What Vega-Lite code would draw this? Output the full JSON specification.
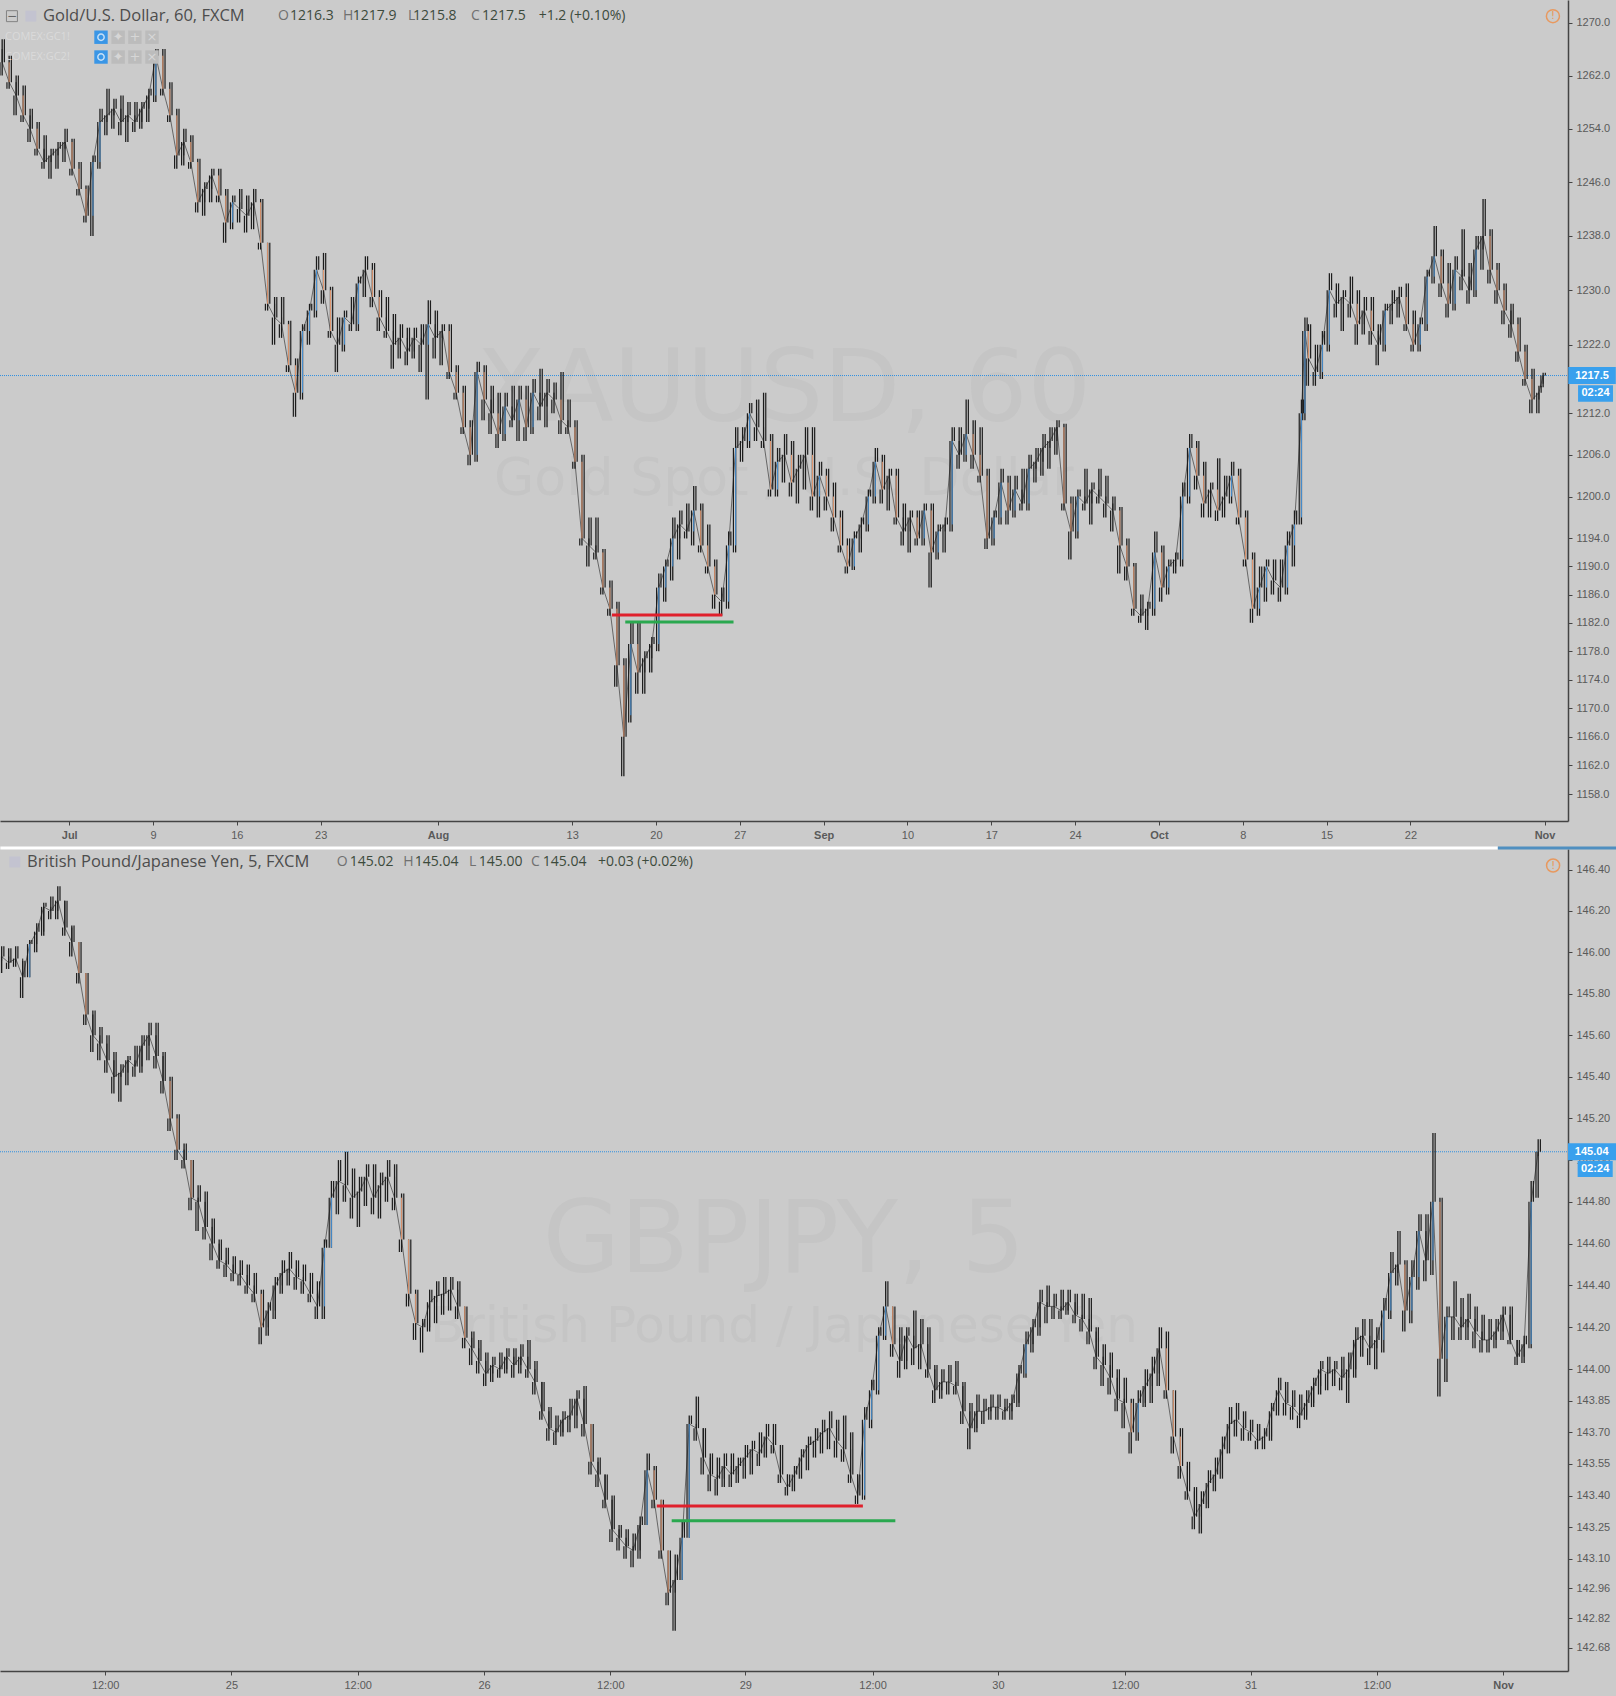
{"$schema":"https://vega.github.io/schema/vega-lite/v6.json","background":"#cbcbcb","padding":{"left":-2,"top":0,"right":0,"bottom":0},"bounds":"flush","spacing":28,"config":{"view":{"stroke":null},"axis":{"labelFont":"Liberation Sans","labelFontSize":11,"labelColor":"#5a5a5a","domainColor":"#444444","domainWidth":1.5,"tickColor":"#444444","tickSize":4,"labelPadding":4,"grid":false,"title":null},"text":{"font":"DejaVu Sans"}},
"datasets":{"gold":[
{"t":-96,"o":1266,"h":1267.5,"l":1262,"c":1264},{"t":-86,"o":1264,"h":1265,"l":1260,"c":1261},{"t":-76,"o":1261,"h":1262,"l":1256,"c":1259},{"t":-66,"o":1259,"h":1260.5,"l":1255,"c":1256},{"t":-56,"o":1256,"h":1257,"l":1252,"c":1254},{"t":-46,"o":1254,"h":1255,"l":1250,"c":1251},{"t":-36,"o":1251,"h":1253,"l":1248,"c":1249},{"t":-26,"o":1249,"h":1251,"l":1246.5,"c":1250},{"t":-16,"o":1250,"h":1252,"l":1248,"c":1251},{"t":-6,"o":1251,"h":1254,"l":1249,"c":1252},
{"t":4,"o":1252,"h":1252.5,"l":1247,"c":1248},{"t":14,"o":1248,"h":1249,"l":1244,"c":1245},{"t":24,"o":1245,"h":1245.5,"l":1240,"c":1241},{"t":34,"o":1241,"h":1250,"l":1238,"c":1249},{"t":44,"o":1249,"h":1257,"l":1248,"c":1255},{"t":54,"o":1255,"h":1260,"l":1253,"c":1256},{"t":64,"o":1256,"h":1258.5,"l":1254,"c":1257},{"t":74,"o":1257,"h":1259,"l":1253,"c":1255},{"t":84,"o":1255,"h":1258,"l":1252,"c":1256},{"t":94,"o":1256,"h":1258,"l":1253.5,"c":1255},
{"t":104,"o":1255,"h":1258,"l":1254,"c":1257},{"t":114,"o":1257,"h":1260,"l":1255,"c":1259},{"t":124,"o":1259,"h":1266,"l":1258,"c":1265},{"t":134,"o":1265,"h":1266,"l":1259,"c":1260},{"t":144,"o":1260,"h":1261,"l":1255,"c":1256},{"t":154,"o":1256,"h":1257,"l":1248,"c":1250},{"t":164,"o":1250,"h":1254,"l":1248.5,"c":1252},{"t":174,"o":1252,"h":1253,"l":1248,"c":1249},{"t":184,"o":1249,"h":1249.5,"l":1241.5,"c":1243},{"t":194,"o":1243,"h":1246,"l":1241,"c":1245},
{"t":204,"o":1245,"h":1248,"l":1243,"c":1247},{"t":214,"o":1247,"h":1248,"l":1243,"c":1244},{"t":224,"o":1244,"h":1245,"l":1237,"c":1240},{"t":234,"o":1240,"h":1244,"l":1239,"c":1243},{"t":244,"o":1243,"h":1245,"l":1240,"c":1242},{"t":254,"o":1242,"h":1244,"l":1238.5,"c":1241},{"t":264,"o":1241,"h":1245,"l":1239,"c":1243},{"t":274,"o":1243,"h":1243.5,"l":1236,"c":1237},{"t":284,"o":1237,"h":1237,"l":1227,"c":1228},{"t":294,"o":1228,"h":1229,"l":1222,"c":1226},
{"t":304,"o":1226,"h":1229,"l":1223,"c":1225},{"t":314,"o":1225,"h":1225.5,"l":1218,"c":1219},{"t":324,"o":1219,"h":1220,"l":1211.5,"c":1215},{"t":334,"o":1215,"h":1225,"l":1214,"c":1224},{"t":344,"o":1224,"h":1228,"l":1222,"c":1227},{"t":354,"o":1227,"h":1235,"l":1226,"c":1233},{"t":364,"o":1233,"h":1235.5,"l":1228,"c":1230},{"t":374,"o":1230,"h":1230.5,"l":1223,"c":1224},{"t":384,"o":1224,"h":1226,"l":1218,"c":1222},{"t":394,"o":1222,"h":1227,"l":1221,"c":1226},
{"t":404,"o":1226,"h":1229,"l":1224,"c":1225},{"t":414,"o":1225,"h":1232,"l":1224,"c":1231},{"t":424,"o":1231,"h":1235,"l":1229,"c":1233},{"t":434,"o":1233,"h":1234,"l":1227.5,"c":1229},{"t":444,"o":1229,"h":1230,"l":1224,"c":1226},{"t":454,"o":1226,"h":1229,"l":1223,"c":1224},{"t":464,"o":1224,"h":1226.5,"l":1218.5,"c":1222},{"t":474,"o":1222,"h":1225,"l":1220,"c":1223},{"t":484,"o":1223,"h":1224.5,"l":1219,"c":1221},{"t":494,"o":1221,"h":1224.5,"l":1220,"c":1223},
{"t":504,"o":1223,"h":1225,"l":1218,"c":1222},{"t":514,"o":1222,"h":1228.5,"l":1214,"c":1225},{"t":524,"o":1225,"h":1227,"l":1220,"c":1223},{"t":534,"o":1223,"h":1225,"l":1219,"c":1224},{"t":544,"o":1224,"h":1225,"l":1217,"c":1218},{"t":554,"o":1218,"h":1219,"l":1214,"c":1215},{"t":564,"o":1215,"h":1216,"l":1209,"c":1210},{"t":574,"o":1210,"h":1211,"l":1204.5,"c":1206},{"t":584,"o":1206,"h":1219.5,"l":1205,"c":1218},{"t":594,"o":1218,"h":1219,"l":1211,"c":1214},
{"t":604,"o":1214,"h":1216,"l":1209,"c":1212},{"t":614,"o":1212,"h":1215,"l":1207,"c":1209},{"t":624,"o":1209,"h":1215,"l":1208,"c":1213},{"t":634,"o":1213,"h":1216,"l":1210,"c":1211},{"t":644,"o":1211,"h":1216,"l":1208,"c":1214},{"t":654,"o":1214,"h":1216,"l":1208,"c":1210},{"t":664,"o":1210,"h":1217,"l":1209,"c":1215},{"t":674,"o":1215,"h":1218.5,"l":1211,"c":1213},{"t":684,"o":1213,"h":1217,"l":1210,"c":1215},{"t":694,"o":1215,"h":1216.5,"l":1212,"c":1214},
{"t":704,"o":1214,"h":1218,"l":1209,"c":1211},{"t":714,"o":1211,"h":1214,"l":1209,"c":1210},{"t":724,"o":1210,"h":1211,"l":1204,"c":1205},{"t":734,"o":1205,"h":1206,"l":1193,"c":1194},{"t":744,"o":1194,"h":1197,"l":1190,"c":1193},{"t":754,"o":1193,"h":1197,"l":1191,"c":1192},{"t":764,"o":1192,"h":1192.5,"l":1186,"c":1187},{"t":774,"o":1187,"h":1188,"l":1183,"c":1184},{"t":784,"o":1184,"h":1185,"l":1173,"c":1176},{"t":794,"o":1176,"h":1177,"l":1160.5,"c":1166},
{"t":804,"o":1169,"h":1182,"l":1168,"c":1179},{"t":814,"o":1179,"h":1182,"l":1172,"c":1175},{"t":824,"o":1175,"h":1178,"l":1172,"c":1177},{"t":834,"o":1177,"h":1180,"l":1175,"c":1179},{"t":844,"o":1179,"h":1189,"l":1178,"c":1187},{"t":854,"o":1187,"h":1191,"l":1185,"c":1190},{"t":864,"o":1190,"h":1197,"l":1188,"c":1194},{"t":874,"o":1194,"h":1198,"l":1191,"c":1196},{"t":884,"o":1196,"h":1199,"l":1194,"c":1195},{"t":894,"o":1195,"h":1201.5,"l":1193,"c":1198},
{"t":904,"o":1198,"h":1199,"l":1192,"c":1193},{"t":914,"o":1193,"h":1196,"l":1189,"c":1190},{"t":924,"o":1190,"h":1191,"l":1184,"c":1186},{"t":934,"o":1186,"h":1187,"l":1183,"c":1185},{"t":944,"o":1185,"h":1195,"l":1184,"c":1193},{"t":954,"o":1193,"h":1210,"l":1192,"c":1207},{"t":964,"o":1207,"h":1210,"l":1205,"c":1208},{"t":974,"o":1208,"h":1213.5,"l":1207,"c":1212},{"t":984,"o":1212,"h":1214,"l":1208,"c":1210},{"t":994,"o":1210,"h":1215,"l":1207,"c":1208},
{"t":1004,"o":1208,"h":1209,"l":1200,"c":1201},{"t":1014,"o":1201,"h":1207,"l":1200,"c":1205},{"t":1024,"o":1205,"h":1209,"l":1202,"c":1206},{"t":1034,"o":1206,"h":1208,"l":1200,"c":1202},{"t":1044,"o":1202,"h":1206,"l":1199,"c":1204},{"t":1054,"o":1204,"h":1210,"l":1201,"c":1206},{"t":1064,"o":1206,"h":1210,"l":1198,"c":1200},{"t":1074,"o":1200,"h":1205,"l":1197,"c":1203},{"t":1084,"o":1203,"h":1204,"l":1198,"c":1200},{"t":1094,"o":1200,"h":1202,"l":1195,"c":1197},
{"t":1104,"o":1197,"h":1198,"l":1192,"c":1193},{"t":1114,"o":1193,"h":1194,"l":1189,"c":1190},{"t":1124,"o":1190,"h":1195,"l":1189.5,"c":1194},{"t":1134,"o":1194,"h":1197,"l":1192,"c":1196},{"t":1144,"o":1196,"h":1201,"l":1195,"c":1200},{"t":1154,"o":1200,"h":1207,"l":1199,"c":1205},{"t":1164,"o":1205,"h":1206,"l":1199,"c":1201},{"t":1174,"o":1201,"h":1204,"l":1198,"c":1203},{"t":1184,"o":1203,"h":1204,"l":1196,"c":1197},{"t":1194,"o":1197,"h":1199,"l":1193,"c":1195},
{"t":1204,"o":1195,"h":1198,"l":1192,"c":1197},{"t":1214,"o":1197,"h":1198,"l":1193,"c":1194},{"t":1224,"o":1194,"h":1199,"l":1193,"c":1198},{"t":1234,"o":1198,"h":1199,"l":1187,"c":1192},{"t":1244,"o":1192,"h":1196,"l":1191,"c":1195},{"t":1254,"o":1195,"h":1197,"l":1192,"c":1196},{"t":1264,"o":1196,"h":1210,"l":1195,"c":1208},{"t":1274,"o":1208,"h":1210,"l":1204,"c":1206},{"t":1284,"o":1206,"h":1214,"l":1205,"c":1209},{"t":1294,"o":1209,"h":1211,"l":1204,"c":1206},
{"t":1304,"o":1206,"h":1210,"l":1202,"c":1203},{"t":1314,"o":1203,"h":1204,"l":1192.5,"c":1194},{"t":1324,"o":1194,"h":1198,"l":1193,"c":1197},{"t":1334,"o":1197,"h":1204,"l":1196,"c":1202},{"t":1344,"o":1202,"h":1203,"l":1196,"c":1198},{"t":1354,"o":1198,"h":1203,"l":1197,"c":1201},{"t":1364,"o":1201,"h":1204,"l":1198,"c":1199},{"t":1374,"o":1199,"h":1206,"l":1198,"c":1204},{"t":1384,"o":1204,"h":1207,"l":1202,"c":1205},{"t":1394,"o":1205,"h":1209,"l":1203,"c":1207},
{"t":1404,"o":1207,"h":1210,"l":1204,"c":1208},{"t":1414,"o":1208,"h":1211,"l":1206,"c":1210},{"t":1424,"o":1210,"h":1210.5,"l":1198,"c":1199},{"t":1434,"o":1199,"h":1200,"l":1191,"c":1195},{"t":1444,"o":1195,"h":1201,"l":1194,"c":1200},{"t":1454,"o":1200,"h":1204,"l":1198,"c":1199},{"t":1464,"o":1199,"h":1202,"l":1196,"c":1201},{"t":1474,"o":1201,"h":1204,"l":1199,"c":1200},{"t":1484,"o":1200,"h":1203,"l":1197,"c":1199},{"t":1494,"o":1199,"h":1200,"l":1195,"c":1198},
{"t":1504,"o":1198,"h":1198.5,"l":1189,"c":1193},{"t":1514,"o":1193,"h":1194,"l":1188,"c":1190},{"t":1524,"o":1190,"h":1190.5,"l":1183,"c":1184},{"t":1534,"o":1184,"h":1186,"l":1182,"c":1183},{"t":1544,"o":1183,"h":1185,"l":1181,"c":1184},{"t":1554,"o":1184,"h":1195,"l":1183,"c":1192},{"t":1564,"o":1192,"h":1193,"l":1185,"c":1187},{"t":1574,"o":1187,"h":1191,"l":1186,"c":1190},{"t":1584,"o":1190,"h":1192,"l":1189,"c":1191},{"t":1594,"o":1191,"h":1202,"l":1190,"c":1200},
{"t":1604,"o":1200,"h":1209,"l":1199,"c":1207},{"t":1614,"o":1207,"h":1208,"l":1201,"c":1203},{"t":1624,"o":1203,"h":1205,"l":1197,"c":1199},{"t":1634,"o":1199,"h":1202,"l":1197,"c":1201},{"t":1644,"o":1201,"h":1205.5,"l":1196.5,"c":1198},{"t":1654,"o":1198,"h":1203,"l":1197,"c":1200},{"t":1664,"o":1200,"h":1205,"l":1199,"c":1203},{"t":1674,"o":1203,"h":1204,"l":1196,"c":1197},{"t":1684,"o":1197,"h":1198,"l":1190,"c":1191},{"t":1694,"o":1191,"h":1192,"l":1182,"c":1184},
{"t":1704,"o":1184,"h":1190,"l":1183,"c":1187},{"t":1714,"o":1187,"h":1191,"l":1185,"c":1190},{"t":1724,"o":1190,"h":1191,"l":1186,"c":1188},{"t":1734,"o":1188,"h":1191,"l":1185,"c":1187},{"t":1744,"o":1187,"h":1195,"l":1186,"c":1193},{"t":1754,"o":1193,"h":1198,"l":1190,"c":1196},{"t":1764,"o":1197,"h":1214,"l":1196,"c":1212},{"t":1769,"o":1212,"h":1226,"l":1211,"c":1224},{"t":1774,"o":1224,"h":1225,"l":1216,"c":1220},{"t":1784,"o":1220,"h":1222,"l":1216,"c":1218},
{"t":1794,"o":1218,"h":1224,"l":1217,"c":1222},{"t":1804,"o":1222,"h":1232.5,"l":1221,"c":1230},{"t":1814,"o":1230,"h":1231,"l":1226,"c":1228},{"t":1824,"o":1228,"h":1230,"l":1224,"c":1229},{"t":1834,"o":1229,"h":1232,"l":1226,"c":1228},{"t":1844,"o":1228,"h":1230,"l":1222,"c":1225},{"t":1854,"o":1225,"h":1229,"l":1223.5,"c":1227},{"t":1864,"o":1227,"h":1229,"l":1222,"c":1224},{"t":1874,"o":1224,"h":1225,"l":1219,"c":1222},{"t":1884,"o":1222,"h":1228,"l":1221,"c":1227},
{"t":1894,"o":1227,"h":1230,"l":1225,"c":1228},{"t":1904,"o":1228,"h":1230.5,"l":1226,"c":1229},{"t":1914,"o":1229,"h":1231,"l":1224,"c":1225},{"t":1924,"o":1225,"h":1227,"l":1221,"c":1222},{"t":1934,"o":1222,"h":1226,"l":1221,"c":1225},{"t":1944,"o":1225,"h":1233,"l":1224,"c":1232},{"t":1954,"o":1232,"h":1239.5,"l":1231,"c":1235},{"t":1964,"o":1235,"h":1236,"l":1229,"c":1231},{"t":1974,"o":1231,"h":1234,"l":1226,"c":1228},{"t":1984,"o":1228,"h":1235,"l":1227,"c":1233},
{"t":1994,"o":1233,"h":1239,"l":1230,"c":1232},{"t":2004,"o":1232,"h":1234,"l":1228,"c":1230},{"t":2014,"o":1230,"h":1238,"l":1229,"c":1236},{"t":2024,"o":1236,"h":1243.5,"l":1233,"c":1238},{"t":2034,"o":1238,"h":1239,"l":1231,"c":1233},{"t":2044,"o":1233,"h":1234,"l":1228,"c":1230},{"t":2054,"o":1230,"h":1231,"l":1225,"c":1227},{"t":2064,"o":1227,"h":1228,"l":1223,"c":1225},{"t":2074,"o":1225,"h":1226,"l":1219.5,"c":1221},{"t":2084,"o":1221,"h":1222,"l":1216,"c":1217},
{"t":2094,"o":1217,"h":1218.5,"l":1212,"c":1214},{"t":2104,"o":1214,"h":1216,"l":1212,"c":1215},{"t":2110,"o":1216.3,"h":1217.9,"l":1215.8,"c":1217.5}
],"gbp":[
{"t":-262,"o":145.96,"h":146.03,"l":145.9,"c":145.98},{"t":-254,"o":145.98,"h":146.02,"l":145.92,"c":145.95},{"t":-246,"o":145.95,"h":146.03,"l":145.93,"c":145.97},{"t":-238,"o":145.97,"h":145.96,"l":145.78,"c":145.88},{"t":-230,"o":145.88,"h":146.06,"l":145.88,"c":146.04},{"t":-222,"o":146.04,"h":146.14,"l":146,"c":146.1},{"t":-214,"o":146.1,"h":146.24,"l":146.08,"c":146.22},{"t":-206,"o":146.22,"h":146.27,"l":146.16,"c":146.2},{"t":-198,"o":146.2,"h":146.32,"l":146.16,"c":146.25},{"t":-190,"o":146.25,"h":146.25,"l":146.08,"c":146.12},
{"t":-182,"o":146.12,"h":146.13,"l":145.98,"c":146.05},{"t":-174,"o":146.05,"h":146.05,"l":145.85,"c":145.9},{"t":-166,"o":145.9,"h":145.9,"l":145.65,"c":145.7},{"t":-158,"o":145.7,"h":145.72,"l":145.52,"c":145.6},{"t":-150,"o":145.6,"h":145.64,"l":145.48,"c":145.56},{"t":-142,"o":145.56,"h":145.6,"l":145.42,"c":145.48},{"t":-134,"o":145.48,"h":145.52,"l":145.32,"c":145.4},{"t":-126,"o":145.4,"h":145.46,"l":145.28,"c":145.42},{"t":-118,"o":145.42,"h":145.5,"l":145.36,"c":145.48},{"t":-110,"o":145.48,"h":145.55,"l":145.4,"c":145.45},
{"t":-102,"o":145.45,"h":145.6,"l":145.42,"c":145.55},{"t":-94,"o":145.55,"h":145.66,"l":145.48,"c":145.6},{"t":-86,"o":145.6,"h":145.66,"l":145.44,"c":145.5},{"t":-78,"o":145.5,"h":145.52,"l":145.32,"c":145.38},{"t":-70,"o":145.38,"h":145.4,"l":145.14,"c":145.2},{"t":-62,"o":145.2,"h":145.22,"l":145,"c":145.05},{"t":-54,"o":145.05,"h":145.08,"l":144.96,"c":145},{"t":-46,"o":145,"h":145,"l":144.76,"c":144.82},{"t":-38,"o":144.82,"h":144.88,"l":144.66,"c":144.8},{"t":-30,"o":144.8,"h":144.85,"l":144.62,"c":144.68},
{"t":-22,"o":144.68,"h":144.72,"l":144.52,"c":144.6},{"t":-14,"o":144.6,"h":144.62,"l":144.48,"c":144.52},{"t":-6,"o":144.52,"h":144.58,"l":144.44,"c":144.5},{"t":2,"o":144.5,"h":144.54,"l":144.42,"c":144.46},{"t":10,"o":144.46,"h":144.52,"l":144.4,"c":144.45},{"t":18,"o":144.45,"h":144.5,"l":144.36,"c":144.4},{"t":26,"o":144.4,"h":144.46,"l":144.32,"c":144.36},{"t":34,"o":144.36,"h":144.38,"l":144.12,"c":144.2},{"t":42,"o":144.2,"h":144.32,"l":144.16,"c":144.28},{"t":50,"o":144.28,"h":144.44,"l":144.24,"c":144.4},
{"t":58,"o":144.4,"h":144.52,"l":144.36,"c":144.46},{"t":66,"o":144.46,"h":144.56,"l":144.4,"c":144.48},{"t":74,"o":144.48,"h":144.52,"l":144.38,"c":144.44},{"t":82,"o":144.44,"h":144.5,"l":144.36,"c":144.42},{"t":90,"o":144.42,"h":144.46,"l":144.32,"c":144.36},{"t":98,"o":144.36,"h":144.42,"l":144.24,"c":144.3},{"t":106,"o":144.3,"h":144.62,"l":144.24,"c":144.58},{"t":114,"o":144.58,"h":144.9,"l":144.58,"c":144.82},{"t":122,"o":144.82,"h":145,"l":144.74,"c":144.9},{"t":130,"o":144.9,"h":145.04,"l":144.8,"c":144.88},
{"t":138,"o":144.88,"h":144.96,"l":144.72,"c":144.82},{"t":146,"o":144.82,"h":144.92,"l":144.68,"c":144.85},{"t":154,"o":144.85,"h":144.98,"l":144.78,"c":144.92},{"t":162,"o":144.92,"h":144.98,"l":144.74,"c":144.82},{"t":170,"o":144.82,"h":144.94,"l":144.72,"c":144.88},{"t":178,"o":144.88,"h":145,"l":144.8,"c":144.92},{"t":186,"o":144.92,"h":144.98,"l":144.76,"c":144.82},{"t":194,"o":144.82,"h":144.84,"l":144.56,"c":144.62},{"t":202,"o":144.62,"h":144.62,"l":144.3,"c":144.36},{"t":210,"o":144.36,"h":144.38,"l":144.14,"c":144.22},
{"t":218,"o":144.22,"h":144.24,"l":144.08,"c":144.2},{"t":226,"o":144.2,"h":144.38,"l":144.18,"c":144.32},{"t":234,"o":144.32,"h":144.42,"l":144.22,"c":144.35},{"t":242,"o":144.35,"h":144.44,"l":144.26,"c":144.36},{"t":250,"o":144.36,"h":144.44,"l":144.28,"c":144.38},{"t":258,"o":144.38,"h":144.42,"l":144.24,"c":144.3},{"t":266,"o":144.3,"h":144.3,"l":144.1,"c":144.15},{"t":274,"o":144.15,"h":144.18,"l":144.02,"c":144.1},{"t":282,"o":144.1,"h":144.14,"l":143.98,"c":144.04},{"t":290,"o":144.04,"h":144.08,"l":143.92,"c":143.98},
{"t":298,"o":143.98,"h":144.06,"l":143.94,"c":144.02},{"t":306,"o":144.02,"h":144.08,"l":143.96,"c":144},{"t":314,"o":144,"h":144.1,"l":143.98,"c":144.06},{"t":322,"o":144.06,"h":144.1,"l":143.96,"c":144.02},{"t":330,"o":144.02,"h":144.12,"l":143.98,"c":144.06},{"t":338,"o":144.06,"h":144.14,"l":143.96,"c":144},{"t":346,"o":144,"h":144.04,"l":143.88,"c":143.94},{"t":354,"o":143.94,"h":143.94,"l":143.76,"c":143.8},{"t":362,"o":143.8,"h":143.82,"l":143.66,"c":143.72},{"t":370,"o":143.72,"h":143.78,"l":143.64,"c":143.7},
{"t":378,"o":143.7,"h":143.8,"l":143.68,"c":143.76},{"t":386,"o":143.76,"h":143.86,"l":143.7,"c":143.78},{"t":394,"o":143.78,"h":143.9,"l":143.72,"c":143.86},{"t":402,"o":143.86,"h":143.92,"l":143.68,"c":143.74},{"t":410,"o":143.74,"h":143.74,"l":143.5,"c":143.56},{"t":418,"o":143.56,"h":143.58,"l":143.44,"c":143.5},{"t":426,"o":143.5,"h":143.5,"l":143.34,"c":143.38},{"t":434,"o":143.38,"h":143.4,"l":143.18,"c":143.24},{"t":442,"o":143.24,"h":143.26,"l":143.14,"c":143.2},{"t":450,"o":143.2,"h":143.24,"l":143.1,"c":143.16},
{"t":458,"o":143.16,"h":143.22,"l":143.06,"c":143.14},{"t":466,"o":143.14,"h":143.3,"l":143.1,"c":143.26},{"t":474,"o":143.26,"h":143.6,"l":143.26,"c":143.52},{"t":482,"o":143.52,"h":143.54,"l":143.34,"c":143.38},{"t":490,"o":143.38,"h":143.38,"l":143.1,"c":143.14},{"t":498,"o":143.14,"h":143.14,"l":142.88,"c":142.94},{"t":506,"o":142.94,"h":143.12,"l":142.76,"c":143},{"t":514,"o":143,"h":143.28,"l":143,"c":143.2},{"t":522,"o":143.2,"h":143.78,"l":143.2,"c":143.74},{"t":530,"o":143.74,"h":143.87,"l":143.66,"c":143.72},
{"t":538,"o":143.72,"h":143.72,"l":143.5,"c":143.58},{"t":546,"o":143.58,"h":143.6,"l":143.42,"c":143.5},{"t":554,"o":143.5,"h":143.58,"l":143.4,"c":143.48},{"t":562,"o":143.48,"h":143.6,"l":143.44,"c":143.54},{"t":570,"o":143.54,"h":143.6,"l":143.44,"c":143.5},{"t":578,"o":143.5,"h":143.58,"l":143.46,"c":143.54},{"t":586,"o":143.54,"h":143.64,"l":143.48,"c":143.58},{"t":594,"o":143.58,"h":143.66,"l":143.5,"c":143.62},{"t":602,"o":143.62,"h":143.7,"l":143.54,"c":143.6},{"t":610,"o":143.6,"h":143.74,"l":143.58,"c":143.68},
{"t":618,"o":143.68,"h":143.74,"l":143.6,"c":143.64},{"t":626,"o":143.64,"h":143.64,"l":143.46,"c":143.5},{"t":634,"o":143.5,"h":143.5,"l":143.4,"c":143.44},{"t":642,"o":143.44,"h":143.54,"l":143.42,"c":143.5},{"t":650,"o":143.5,"h":143.62,"l":143.48,"c":143.58},{"t":658,"o":143.58,"h":143.68,"l":143.52,"c":143.64},{"t":666,"o":143.64,"h":143.72,"l":143.58,"c":143.66},{"t":674,"o":143.66,"h":143.76,"l":143.6,"c":143.7},{"t":682,"o":143.7,"h":143.8,"l":143.62,"c":143.72},{"t":690,"o":143.72,"h":143.76,"l":143.58,"c":143.66},
{"t":698,"o":143.66,"h":143.78,"l":143.56,"c":143.62},{"t":706,"o":143.62,"h":143.7,"l":143.46,"c":143.5},{"t":714,"o":143.5,"h":143.5,"l":143.36,"c":143.4},{"t":722,"o":143.4,"h":143.82,"l":143.38,"c":143.76},{"t":730,"o":143.76,"h":143.95,"l":143.72,"c":143.9},{"t":738,"o":143.9,"h":144.2,"l":143.88,"c":144.16},{"t":746,"o":144.16,"h":144.42,"l":144.14,"c":144.3},{"t":754,"o":144.3,"h":144.3,"l":144.06,"c":144.12},{"t":762,"o":144.12,"h":144.2,"l":143.96,"c":144.04},{"t":770,"o":144.04,"h":144.2,"l":144,"c":144.16},
{"t":778,"o":144.16,"h":144.28,"l":144.02,"c":144.1},{"t":786,"o":144.1,"h":144.24,"l":144,"c":144.12},{"t":794,"o":144.12,"h":144.2,"l":143.96,"c":144},{"t":802,"o":144,"h":144.02,"l":143.84,"c":143.9},{"t":810,"o":143.9,"h":144,"l":143.86,"c":143.94},{"t":818,"o":143.94,"h":144.02,"l":143.88,"c":143.94},{"t":826,"o":143.94,"h":144.04,"l":143.88,"c":143.92},{"t":834,"o":143.92,"h":143.94,"l":143.74,"c":143.8},{"t":842,"o":143.8,"h":143.84,"l":143.62,"c":143.72},{"t":850,"o":143.72,"h":143.88,"l":143.7,"c":143.8},
{"t":858,"o":143.8,"h":143.86,"l":143.74,"c":143.8},{"t":866,"o":143.8,"h":143.88,"l":143.76,"c":143.82},{"t":874,"o":143.82,"h":143.88,"l":143.76,"c":143.82},{"t":882,"o":143.82,"h":143.86,"l":143.76,"c":143.8},{"t":890,"o":143.8,"h":143.88,"l":143.76,"c":143.84},{"t":898,"o":143.84,"h":144.02,"l":143.82,"c":143.98},{"t":906,"o":143.98,"h":144.18,"l":143.96,"c":144.12},{"t":914,"o":144.12,"h":144.24,"l":144.08,"c":144.2},{"t":922,"o":144.2,"h":144.38,"l":144.16,"c":144.32},{"t":930,"o":144.32,"h":144.4,"l":144.22,"c":144.3},
{"t":938,"o":144.3,"h":144.36,"l":144.24,"c":144.3},{"t":946,"o":144.3,"h":144.38,"l":144.24,"c":144.28},{"t":954,"o":144.28,"h":144.38,"l":144.26,"c":144.32},{"t":962,"o":144.32,"h":144.36,"l":144.22,"c":144.26},{"t":970,"o":144.26,"h":144.36,"l":144.18,"c":144.24},{"t":978,"o":144.24,"h":144.34,"l":144.12,"c":144.18},{"t":986,"o":144.18,"h":144.2,"l":144,"c":144.06},{"t":994,"o":144.06,"h":144.12,"l":143.92,"c":144.02},{"t":1002,"o":144.02,"h":144.08,"l":143.88,"c":143.96},{"t":1010,"o":143.96,"h":144,"l":143.8,"c":143.86},
{"t":1018,"o":143.86,"h":143.96,"l":143.72,"c":143.84},{"t":1026,"o":143.84,"h":143.86,"l":143.6,"c":143.7},{"t":1034,"o":143.7,"h":143.9,"l":143.66,"c":143.84},{"t":1042,"o":143.84,"h":144,"l":143.82,"c":143.92},{"t":1050,"o":143.92,"h":144.06,"l":143.84,"c":143.98},{"t":1058,"o":143.98,"h":144.2,"l":143.92,"c":144.1},{"t":1066,"o":144.1,"h":144.18,"l":143.86,"c":143.9},{"t":1074,"o":143.9,"h":143.9,"l":143.6,"c":143.68},{"t":1082,"o":143.68,"h":143.72,"l":143.48,"c":143.54},{"t":1090,"o":143.54,"h":143.56,"l":143.38,"c":143.42},
{"t":1098,"o":143.42,"h":143.44,"l":143.24,"c":143.3},{"t":1106,"o":143.3,"h":143.42,"l":143.22,"c":143.36},{"t":1114,"o":143.36,"h":143.52,"l":143.34,"c":143.46},{"t":1122,"o":143.46,"h":143.58,"l":143.42,"c":143.5},{"t":1130,"o":143.5,"h":143.68,"l":143.48,"c":143.62},{"t":1138,"o":143.62,"h":143.82,"l":143.6,"c":143.74},{"t":1146,"o":143.74,"h":143.84,"l":143.68,"c":143.76},{"t":1154,"o":143.76,"h":143.8,"l":143.66,"c":143.72},{"t":1162,"o":143.72,"h":143.76,"l":143.66,"c":143.7},{"t":1170,"o":143.7,"h":143.74,"l":143.62,"c":143.66},
{"t":1178,"o":143.66,"h":143.72,"l":143.62,"c":143.68},{"t":1186,"o":143.68,"h":143.84,"l":143.66,"c":143.8},{"t":1194,"o":143.8,"h":143.96,"l":143.78,"c":143.9},{"t":1202,"o":143.9,"h":143.94,"l":143.78,"c":143.84},{"t":1210,"o":143.84,"h":143.9,"l":143.76,"c":143.82},{"t":1218,"o":143.82,"h":143.88,"l":143.72,"c":143.78},{"t":1226,"o":143.78,"h":143.9,"l":143.76,"c":143.84},{"t":1234,"o":143.84,"h":143.96,"l":143.82,"c":143.92},{"t":1242,"o":143.92,"h":144.04,"l":143.88,"c":144},{"t":1250,"o":144,"h":144.06,"l":143.9,"c":143.98},
{"t":1258,"o":143.98,"h":144.04,"l":143.92,"c":144},{"t":1266,"o":144,"h":144.06,"l":143.9,"c":143.96},{"t":1274,"o":143.96,"h":144.08,"l":143.84,"c":144},{"t":1282,"o":144,"h":144.2,"l":143.96,"c":144.14},{"t":1290,"o":144.14,"h":144.24,"l":144.06,"c":144.16},{"t":1298,"o":144.16,"h":144.24,"l":144.02,"c":144.1},{"t":1306,"o":144.1,"h":144.2,"l":144,"c":144.14},{"t":1314,"o":144.14,"h":144.34,"l":144.08,"c":144.28},{"t":1322,"o":144.28,"h":144.56,"l":144.24,"c":144.46},{"t":1330,"o":144.46,"h":144.66,"l":144.4,"c":144.5},
{"t":1338,"o":144.5,"h":144.52,"l":144.18,"c":144.28},{"t":1346,"o":144.28,"h":144.52,"l":144.22,"c":144.44},{"t":1354,"o":144.44,"h":144.74,"l":144.38,"c":144.66},{"t":1362,"o":144.66,"h":144.74,"l":144.42,"c":144.52},{"t":1370,"o":144.52,"h":145.13,"l":144.45,"c":144.8},{"t":1378,"o":144.8,"h":144.82,"l":143.87,"c":144.05},{"t":1386,"o":144.05,"h":144.3,"l":143.94,"c":144.25},{"t":1394,"o":144.25,"h":144.42,"l":144.14,"c":144.25},{"t":1402,"o":144.25,"h":144.34,"l":144.14,"c":144.2},{"t":1410,"o":144.2,"h":144.36,"l":144.14,"c":144.24},
{"t":1418,"o":144.24,"h":144.3,"l":144.1,"c":144.18},{"t":1426,"o":144.18,"h":144.26,"l":144.08,"c":144.14},{"t":1434,"o":144.14,"h":144.24,"l":144.08,"c":144.14},{"t":1442,"o":144.14,"h":144.24,"l":144.1,"c":144.18},{"t":1450,"o":144.18,"h":144.3,"l":144.14,"c":144.26},{"t":1458,"o":144.26,"h":144.3,"l":144.12,"c":144.14},{"t":1466,"o":144.14,"h":144.14,"l":144.02,"c":144.06},{"t":1474,"o":144.06,"h":144.16,"l":144.03,"c":144.12},{"t":1482,"o":144.12,"h":144.9,"l":144.1,"c":144.8},{"t":1490,"o":145.02,"h":145.1,"l":144.82,"c":145.04}
]},
"vconcat":[
{"width":1568,"height":821,
"encoding":{
"x":{"field":"t","type":"quantitative","scale":{"domain":[-99.1,2145.6],"nice":false,"zero":false},"axis":{"orient":"bottom","values":[0,120,240,360,528,720,840,960,1080,1200,1320,1440,1560,1680,1800,1920,2112],"labelExpr":"{'0':'Jul','120':'9','240':'16','360':'23','528':'Aug','720':'13','840':'20','960':'27','1080':'Sep','1200':'10','1320':'17','1440':'24','1560':'Oct','1680':'8','1800':'15','1920':'22','2112':'Nov'}[datum.value]","labelFontWeight":{"condition":{"test":"datum.value==0||datum.value==528||datum.value==1080||datum.value==1560||datum.value==2112","value":"bold"},"value":"normal"}}},
"y":{"field":"p","type":"quantitative","scale":{"type":"log","domain":[1154.3,1273.46],"nice":false,"zero":false},"axis":{"orient":"right","values":[1270,1262,1254,1246,1238,1230,1222,1212,1206,1200,1194,1190,1186,1182,1178,1174,1170,1166,1162,1158],"format":".1f"}}},
"layer":[
{"data":{"values":[{"t":1023,"p":1215.2,"label":"XAUUSD, 60"}]},"mark":{"type":"text","fontSize":100,"color":"#c5c5c5"},"encoding":{"text":{"field":"label"}}},
{"data":{"values":[{"t":1023,"p":1202.5,"label":"Gold Spot / U.S. Dollar"}]},"mark":{"type":"text","fontSize":52,"color":"#c5c5c5"},"encoding":{"text":{"field":"label"}}},
{"data":{"values":[{"t":-99.1,"t2":2145.6,"p":1217.5}]},"mark":{"type":"rule","color":"#2f8fe0","strokeWidth":1,"strokeDash":[1,1]},"encoding":{"x2":{"field":"t2"}}},
{"data":{"name":"gold"},"mark":{"type":"line","color":"#222222","strokeWidth":0.6},"encoding":{"y":{"field":"c","type":"quantitative","scale":{"type":"log","domain":[1154.3,1273.46],"nice":false,"zero":false}}}},
{"data":{"name":"gold"},"mark":{"type":"rule","color":"#1c1c1c","strokeWidth":1.2,"xOffset":-2.2},"encoding":{"y":{"field":"l","type":"quantitative","scale":{"type":"log","domain":[1154.3,1273.46],"nice":false,"zero":false}},"y2":{"field":"c"}}},
{"data":{"name":"gold"},"mark":{"type":"rule","color":"#1c1c1c","strokeWidth":1.2,"xOffset":2.2},"encoding":{"y":{"field":"c","type":"quantitative","scale":{"type":"log","domain":[1154.3,1273.46],"nice":false,"zero":false}},"y2":{"field":"h"}}},
{"data":{"name":"gold"},"mark":{"type":"rule","color":"#1c1c1c","strokeWidth":1.3},"encoding":{"y":{"field":"l","type":"quantitative","scale":{"type":"log","domain":[1154.3,1273.46],"nice":false,"zero":false}},"y2":{"field":"h"}}},
{"data":{"name":"gold"},"mark":{"type":"rule","strokeWidth":1},"encoding":{"y":{"field":"o","type":"quantitative","scale":{"type":"log","domain":[1154.3,1273.46],"nice":false,"zero":false}},"y2":{"field":"c"},"color":{"condition":[{"test":"abs(datum.c-datum.o)<3","value":"#1c1c1c"},{"test":"datum.c>=datum.o","value":"#4a93d6"}],"value":"#e59a72"}}},
{"data":{"values":[{"t":777,"t2":935,"p":1183.1}]},"mark":{"type":"rule","color":"#e0202c","strokeWidth":3},"encoding":{"x2":{"field":"t2"}}},
{"data":{"values":[{"t":796,"t2":951,"p":1182.1}]},"mark":{"type":"rule","color":"#2aa84f","strokeWidth":3},"encoding":{"x2":{"field":"t2"}}},
{"data":{"values":[{"t":-82,"p":1271}]},"mark":{"type":"point","shape":"square","size":120,"filled":false,"stroke":"#666666","strokeWidth":1}},
{"data":{"values":[{"t":-82,"p":1271,"label":"−"}]},"mark":{"type":"text","fontSize":12,"color":"#666666"},"encoding":{"text":{"field":"label"}}},
{"data":{"values":[{"t":-55,"p":1271}]},"mark":{"type":"point","shape":"square","size":120,"filled":true,"color":"#c3c3d0","opacity":1}},
{"data":{"values":[{"t":-37.5,"p":1271,"label":"Gold/U.S. Dollar, 60, FXCM"}]},"mark":{"type":"text","align":"left","fontSize":16.5,"color":"#4d4d4d","font":"Open Sans"},"encoding":{"text":{"field":"label"}}},
{"data":{"values":[{"t":299,"p":1271,"label":"O"},{"t":392,"p":1271,"label":"H"},{"t":485,"p":1271,"label":"L"},{"t":575,"p":1271,"label":"C"}]},"mark":{"type":"text","align":"left","fontSize":14,"color":"#707070","font":"Open Sans"},"encoding":{"text":{"field":"label"}}},
{"data":{"values":[{"t":316,"p":1271,"label":"1216.3"},{"t":406,"p":1271,"label":"1217.9"},{"t":492,"p":1271,"label":"1215.8"},{"t":591,"p":1271,"label":"1217.5"},{"t":672,"p":1271,"label":"+1.2 (+0.10%)"}]},"mark":{"type":"text","align":"left","fontSize":14,"color":"#3c4a3c","font":"Open Sans"},"encoding":{"text":{"field":"label"}}},
{"data":{"values":[{"t":-92,"p":1267.8,"label":"COMEX:GC1!"},{"t":-92,"p":1264.8,"label":"COMEX:GC2!"}]},"mark":{"type":"text","align":"left","fontSize":11,"color":"#dadada","font":"Open Sans"},"encoding":{"text":{"field":"label"}}},
{"data":{"values":[{"t":45.5,"p":1267.8},{"t":45.5,"p":1264.8}]},"mark":{"type":"point","shape":"square","size":180,"filled":true,"color":"#3a96e6","opacity":1}},
{"data":{"values":[{"t":45.5,"p":1267.8},{"t":45.5,"p":1264.8}]},"mark":{"type":"point","shape":"circle","size":40,"filled":false,"stroke":"#ffffff","strokeWidth":1.5}},
{"data":{"values":[{"t":70,"p":1267.8},{"t":94,"p":1267.8},{"t":118.5,"p":1267.8},{"t":70,"p":1264.8},{"t":94,"p":1264.8},{"t":118.5,"p":1264.8}]},"mark":{"type":"point","shape":"square","size":180,"filled":true,"color":"#bcbcbc","opacity":1}},
{"data":{"values":[{"t":70,"p":1267.8,"label":"✦"},{"t":94,"p":1267.8,"label":"+"},{"t":118.5,"p":1267.8,"label":"×"},{"t":70,"p":1264.8,"label":"✦"},{"t":94,"p":1264.8,"label":"+"},{"t":118.5,"p":1264.8,"label":"×"}]},"mark":{"type":"text","fontSize":13,"color":"#d6d6d6"},"encoding":{"text":{"field":"label"}}},
{"data":{"values":[{"t":2124,"p":1271}]},"mark":{"type":"point","shape":"circle","size":170,"filled":false,"stroke":"#e8995f","strokeWidth":1.5,"opacity":1}},
{"data":{"values":[{"t":2124,"p":1271,"label":"!"}]},"mark":{"type":"text","fontSize":11,"color":"#e8995f"},"encoding":{"text":{"field":"label"}}},
{"data":{"values":[{"t":2146,"t2":2214,"p":1216.25,"p2":1218.75},{"t":2160,"t2":2210,"p":1213.7,"p2":1216.1}]},"mark":{"type":"rect","color":"#39a0ed","opacity":1},"encoding":{"x2":{"field":"t2"},"y2":{"field":"p2"}}},
{"data":{"values":[{"t":2180,"p":1217.5,"label":"1217.5"},{"t":2185,"p":1214.9,"label":"02:24"}]},"mark":{"type":"text","font":"Liberation Sans","fontWeight":"bold","fontSize":11,"color":"#ffffff"},"encoding":{"text":{"field":"label"}}}
]},
{"width":1568,"height":822,
"encoding":{
"x":{"field":"t","type":"quantitative","scale":{"domain":[-263.9,1524],"nice":false,"zero":false},"axis":{"orient":"bottom","values":[-144,0,144,288,432,586,731,874,1019,1162,1306,1450],"labelExpr":"{'-144':'12:00','0':'25','144':'12:00','288':'26','432':'12:00','586':'29','731':'12:00','874':'30','1019':'12:00','1162':'31','1306':'12:00','1450':'Nov'}[datum.value]","labelFontWeight":{"condition":{"test":"datum.value==1450","value":"bold"},"value":"normal"}}},
"y":{"field":"p","type":"quantitative","scale":{"type":"log","domain":[142.57,146.5],"nice":false,"zero":false},"axis":{"orient":"right","values":[146.4,146.2,146,145.8,145.6,145.4,145.2,145,144.8,144.6,144.4,144.2,144,143.85,143.7,143.55,143.4,143.25,143.1,142.96,142.82,142.68],"format":".2f"}}},
"layer":[
{"data":{"values":[{"t":630,"p":144.61,"label":"GBPJPY, 5"}]},"mark":{"type":"text","fontSize":100,"color":"#c5c5c5"},"encoding":{"text":{"field":"label"}}},
{"data":{"values":[{"t":630,"p":144.2,"label":"British Pound / Japanese Yen"}]},"mark":{"type":"text","fontSize":50,"color":"#c5c5c5"},"encoding":{"text":{"field":"label"}}},
{"data":{"values":[{"t":-263.9,"t2":1524,"p":145.04}]},"mark":{"type":"rule","color":"#2f8fe0","strokeWidth":1,"strokeDash":[1,1]},"encoding":{"x2":{"field":"t2"}}},
{"data":{"name":"gbp"},"mark":{"type":"line","color":"#222222","strokeWidth":0.6},"encoding":{"y":{"field":"c","type":"quantitative","scale":{"type":"log","domain":[142.57,146.5],"nice":false,"zero":false}}}},
{"data":{"name":"gbp"},"mark":{"type":"rule","color":"#1c1c1c","strokeWidth":1.2,"xOffset":-2.2},"encoding":{"y":{"field":"l","type":"quantitative","scale":{"type":"log","domain":[142.57,146.5],"nice":false,"zero":false}},"y2":{"field":"c"}}},
{"data":{"name":"gbp"},"mark":{"type":"rule","color":"#1c1c1c","strokeWidth":1.2,"xOffset":2.2},"encoding":{"y":{"field":"c","type":"quantitative","scale":{"type":"log","domain":[142.57,146.5],"nice":false,"zero":false}},"y2":{"field":"h"}}},
{"data":{"name":"gbp"},"mark":{"type":"rule","color":"#1c1c1c","strokeWidth":1.3},"encoding":{"y":{"field":"l","type":"quantitative","scale":{"type":"log","domain":[142.57,146.5],"nice":false,"zero":false}},"y2":{"field":"h"}}},
{"data":{"name":"gbp"},"mark":{"type":"rule","strokeWidth":1},"encoding":{"y":{"field":"o","type":"quantitative","scale":{"type":"log","domain":[142.57,146.5],"nice":false,"zero":false}},"y2":{"field":"c"},"color":{"condition":[{"test":"abs(datum.c-datum.o)<0.14","value":"#1c1c1c"},{"test":"datum.c>=datum.o","value":"#4a93d6"}],"value":"#e59a72"}}},
{"data":{"values":[{"t":485,"t2":720,"p":143.35}]},"mark":{"type":"rule","color":"#e0202c","strokeWidth":3},"encoding":{"x2":{"field":"t2"}}},
{"data":{"values":[{"t":502,"t2":757,"p":143.28}]},"mark":{"type":"rule","color":"#2aa84f","strokeWidth":3},"encoding":{"x2":{"field":"t2"}}},
{"data":{"values":[{"t":-263.5,"t2":1444,"p":146.505}]},"mark":{"type":"rule","color":"#ffffff","strokeWidth":3},"encoding":{"x2":{"field":"t2"}}},
{"data":{"values":[{"t":1444,"t2":1579,"p":146.505}]},"mark":{"type":"rule","color":"#4f8fc0","strokeWidth":3},"encoding":{"x2":{"field":"t2"}}},
{"data":{"values":[{"t":-263.5,"t2":1524,"p":142.45}]},"mark":{"type":"rule","color":"#cbcbcb","strokeWidth":1},"encoding":{"x2":{"field":"t2"}}},
{"data":{"values":[{"t":-247,"p":146.437}]},"mark":{"type":"point","shape":"square","size":120,"filled":true,"color":"#c3c3d0","opacity":1}},
{"data":{"values":[{"t":-233,"p":146.437,"label":"British Pound/Japanese Yen, 5, FXCM"}]},"mark":{"type":"text","align":"left","fontSize":16.5,"color":"#4d4d4d","font":"Open Sans"},"encoding":{"text":{"field":"label"}}},
{"data":{"values":[{"t":120,"p":146.437,"label":"O"},{"t":196,"p":146.437,"label":"H"},{"t":271,"p":146.437,"label":"L"},{"t":341.5,"p":146.437,"label":"C"}]},"mark":{"type":"text","align":"left","fontSize":14,"color":"#707070","font":"Open Sans"},"encoding":{"text":{"field":"label"}}},
{"data":{"values":[{"t":135,"p":146.437,"label":"145.02"},{"t":209,"p":146.437,"label":"145.04"},{"t":282,"p":146.437,"label":"145.00"},{"t":355,"p":146.437,"label":"145.04"},{"t":418,"p":146.437,"label":"+0.03 (+0.02%)"}]},"mark":{"type":"text","align":"left","fontSize":14,"color":"#3c4a3c","font":"Open Sans"},"encoding":{"text":{"field":"label"}}},
{"data":{"values":[{"t":1507,"p":146.42}]},"mark":{"type":"point","shape":"circle","size":170,"filled":false,"stroke":"#e8995f","strokeWidth":1.5,"opacity":1}},
{"data":{"values":[{"t":1507,"p":146.42,"label":"!"}]},"mark":{"type":"text","fontSize":11,"color":"#e8995f"},"encoding":{"text":{"field":"label"}}},
{"data":{"values":[{"t":1524,"t2":1579,"p":144.999,"p2":145.081},{"t":1535,"t2":1575,"p":144.919,"p2":144.996}]},"mark":{"type":"rect","color":"#39a0ed","opacity":1},"encoding":{"x2":{"field":"t2"},"y2":{"field":"p2"}}},
{"data":{"values":[{"t":1551,"p":145.04,"label":"145.04"},{"t":1555,"p":144.957,"label":"02:24"}]},"mark":{"type":"text","font":"Liberation Sans","fontWeight":"bold","fontSize":11,"color":"#ffffff"},"encoding":{"text":{"field":"label"}}}
]}
]}
